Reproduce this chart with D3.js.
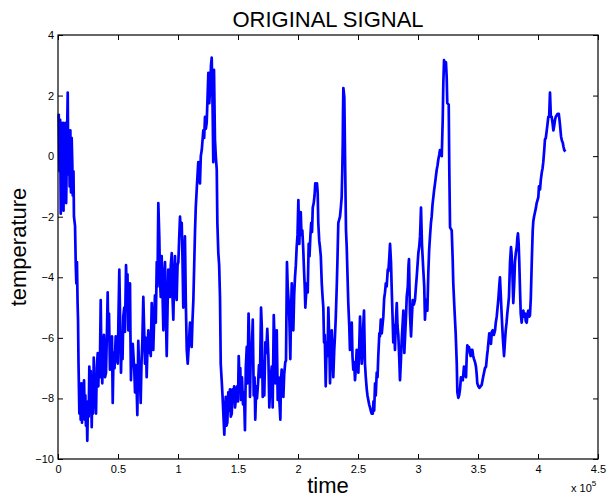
<!DOCTYPE html>
<html>
<head>
<meta charset="utf-8">
<script src="https://cdn.jsdelivr.net/npm/d3@7"></script>
<style>
  body { margin: 0; background: #fff; }
  text { font-family: "Liberation Sans", Arial, Helvetica, sans-serif; }
</style>
</head>
<body>
<svg id="plot" width="609" height="498"></svg>
<script>
// time in units of 10^5, temperature
let signal = [
  [0.006,1.4],[0.013,-0.5],[0.018,1.2],[0.023,-1.9],[0.029,1.1],[0.035,-0.8],[0.042,1.1],[0.046,-1.8],[0.052,0.9],[0.058,-1.0],
  [0.063,1.1],[0.068,-1.55],[0.075,0.5],[0.081,2.1],[0.086,-0.6],[0.092,0.8],[0.097,-1.0],[0.103,0.85],[0.108,-1.2],[0.114,0.6],
  [0.119,-0.2],[0.123,-1.3],[0.129,-0.5],[0.133,-2.0],[0.142,-2.3],[0.148,-3.6],[0.153,-4.2],[0.158,-3.5],[0.163,-4.8],[0.167,-5.4],
  [0.171,-6.85],[0.178,-8.5],[0.183,-7.6],[0.189,-8.7],[0.194,-7.5],[0.200,-8.8],[0.206,-7.5],[0.211,-8.2],[0.217,-7.4],[0.223,-8.7],
  [0.228,-7.9],[0.233,-8.9],[0.239,-8.3],[0.244,-9.4],[0.250,-8.1],[0.256,-8.6],[0.261,-6.95],[0.267,-7.8],[0.273,-7.1],[0.281,-8.95],
  [0.286,-7.6],[0.292,-8.5],[0.298,-6.65],[0.303,-8.3],[0.308,-7.2],[0.317,-8.5],[0.323,-7.0],[0.331,-6.5],[0.336,-7.6],[0.342,-6.6],
  [0.348,-7.3],[0.356,-4.75],[0.361,-6.5],[0.369,-7.5],[0.375,-6.3],[0.383,-5.9],[0.392,-7.3],[0.400,-7.15],[0.408,-5.8],[0.414,-4.5],
  [0.419,-6.0],[0.425,-5.2],[0.433,-7.05],[0.442,-6.2],[0.450,-5.95],[0.456,-8.15],[0.463,-6.5],[0.471,-7.0],[0.481,-5.95],[0.488,-6.6],
  [0.498,-6.85],[0.504,-5.3],[0.511,-3.75],[0.518,-5.5],[0.525,-7.15],[0.531,-6.0],[0.538,-6.7],[0.544,-5.3],[0.552,-5.0],[0.558,-5.8],
  [0.567,-3.6],[0.573,-4.5],[0.579,-3.9],[0.586,-5.75],[0.593,-4.6],[0.600,-4.2],[0.604,-6.0],[0.608,-7.4],[0.615,-6.4],[0.623,-6.2],
  [0.629,-6.6],[0.636,-7.1],[0.642,-7.8],[0.648,-6.9],[0.655,-7.6],[0.661,-8.55],[0.669,-6.1],[0.677,-7.2],[0.683,-7.3],[0.689,-8.15],
  [0.696,-6.8],[0.703,-6.1],[0.711,-4.65],[0.717,-5.6],[0.725,-6.85],[0.732,-6.0],[0.739,-7.3],[0.746,-6.3],[0.753,-5.75],[0.760,-6.5],
  [0.767,-5.95],[0.773,-6.6],[0.781,-4.85],[0.788,-5.8],[0.794,-6.4],[0.802,-5.3],[0.808,-4.6],[0.815,-5.5],[0.823,-3.5],[0.829,-4.3],
  [0.836,-1.55],[0.844,-2.65],[0.850,-4.0],[0.856,-4.65],[0.864,-3.3],[0.871,-4.5],[0.878,-5.75],[0.885,-4.0],[0.892,-3.5],[0.898,-5.0],
  [0.906,-6.6],[0.913,-5.0],[0.919,-3.75],[0.927,-4.4],[0.933,-4.65],[0.940,-3.6],[0.948,-3.2],[0.954,-4.6],[0.961,-5.4],[0.968,-4.0],
  [0.975,-3.3],[0.982,-4.5],[0.989,-4.75],[0.996,-3.6],[1.003,-3.5],[1.010,-2.7],[1.017,-2.0],[1.023,-2.6],[1.031,-2.2],[1.038,-3.5],
  [1.044,-5.0],[1.052,-3.4],[1.058,-2.65],[1.065,-4.8],[1.073,-6.4],[1.081,-6.85],[1.089,-6.3],[1.100,-5.5],[1.107,-6.1],[1.114,-6.3],
  [1.121,-5.4],[1.128,-4.75],[1.135,-3.6],[1.142,-2.45],[1.148,-1.7],[1.156,-1.1],[1.163,-0.6],[1.169,-0.2],[1.177,-0.7],[1.183,-0.9],
  [1.190,0.0],[1.198,0.2],[1.204,0.5],[1.211,0.85],[1.218,0.6],[1.225,1.3],[1.232,0.9],[1.239,1.1],[1.246,1.9],[1.253,2.75],
  [1.261,1.75],[1.269,2.4],[1.275,3.0],[1.281,3.25],[1.286,2.2],[1.289,1.4],[1.294,-0.2],[1.300,2.85],[1.308,0.55],[1.315,0.0],
  [1.323,-0.45],[1.328,-2.2],[1.336,-3.2],[1.343,-3.6],[1.350,-4.65],[1.356,-6.85],[1.364,-7.4],[1.371,-7.9],[1.378,-8.5],[1.386,-9.2],
  [1.392,-8.4],[1.398,-7.95],[1.404,-8.9],[1.411,-8.8],[1.419,-7.8],[1.425,-8.4],[1.433,-7.7],[1.440,-8.6],[1.448,-8.5],[1.454,-7.7],
  [1.461,-8.1],[1.468,-7.6],[1.475,-8.3],[1.483,-8.0],[1.492,-7.6],[1.500,-8.1],[1.506,-6.6],[1.513,-7.4],[1.519,-7.0],[1.525,-8.05],
  [1.533,-7.3],[1.542,-8.2],[1.550,-7.8],[1.558,-9.05],[1.565,-7.0],[1.573,-6.3],[1.579,-7.5],[1.588,-5.2],[1.594,-6.0],[1.600,-7.95],
  [1.607,-6.4],[1.614,-6.6],[1.623,-5.4],[1.631,-7.9],[1.638,-7.3],[1.644,-8.7],[1.652,-7.6],[1.658,-8.0],[1.667,-7.5],[1.675,-6.9],
  [1.683,-7.3],[1.692,-5.0],[1.698,-5.6],[1.706,-7.95],[1.713,-6.8],[1.719,-7.9],[1.728,-6.15],[1.735,-6.5],[1.744,-5.7],[1.753,-6.6],
  [1.761,-8.3],[1.769,-7.5],[1.781,-6.95],[1.789,-8.3],[1.798,-5.25],[1.804,-6.0],[1.811,-7.5],[1.817,-6.7],[1.823,-5.75],[1.831,-8.05],
  [1.838,-7.3],[1.844,-8.0],[1.853,-8.7],[1.858,-7.4],[1.864,-7.05],[1.871,-7.9],[1.878,-7.95],[1.885,-7.2],[1.894,-6.8],[1.900,-6.75],
  [1.908,-3.5],[1.914,-4.3],[1.923,-4.85],[1.929,-5.5],[1.936,-6.7],[1.942,-5.2],[1.948,-4.2],[1.954,-4.8],[1.961,-5.75],[1.968,-4.6],
  [1.975,-4.0],[1.982,-3.6],[1.989,-3.0],[1.996,-2.6],[2.003,-1.45],[2.011,-2.9],[2.018,-2.0],[2.023,-1.85],[2.029,-2.6],[2.036,-2.45],
  [2.043,-3.0],[2.050,-3.75],[2.056,-4.3],[2.061,-5.0],[2.067,-4.6],[2.073,-4.2],[2.081,-4.5],[2.089,-2.9],[2.096,-3.3],[2.103,-2.65],
  [2.110,-2.2],[2.117,-2.5],[2.123,-1.7],[2.131,-1.55],[2.138,-1.3],[2.144,-0.9],[2.152,-1.1],[2.158,-0.9],[2.164,-1.2],[2.169,-2.2],
  [2.177,-2.8],[2.183,-3.0],[2.190,-3.3],[2.198,-4.2],[2.204,-4.6],[2.211,-5.0],[2.217,-6.15],[2.223,-5.9],[2.231,-7.6],[2.239,-6.15],
  [2.246,-6.6],[2.253,-5.0],[2.260,-6.0],[2.267,-7.5],[2.273,-6.4],[2.281,-5.75],[2.288,-6.5],[2.294,-7.3],[2.302,-6.4],[2.308,-5.95],
  [2.315,-5.3],[2.323,-4.3],[2.329,-3.4],[2.336,-2.2],[2.343,-2.1],[2.350,-2.0],[2.357,-1.7],[2.364,-1.35],[2.369,-0.5],[2.373,0.43],
  [2.375,1.4],[2.378,2.25],[2.386,1.95],[2.392,-0.02],[2.400,-2.45],[2.406,-3.0],[2.413,-4.0],[2.419,-4.85],[2.427,-5.6],[2.433,-6.4],
  [2.440,-6.0],[2.448,-5.5],[2.454,-6.6],[2.461,-7.05],[2.468,-6.8],[2.475,-7.4],[2.482,-7.0],[2.489,-6.4],[2.496,-6.9],[2.503,-7.15],
  [2.510,-6.3],[2.517,-5.3],[2.523,-6.0],[2.531,-6.85],[2.538,-6.5],[2.544,-5.6],[2.550,-5.1],[2.558,-6.85],[2.565,-7.3],[2.573,-7.7],
  [2.579,-7.9],[2.586,-8.05],[2.593,-8.2],[2.600,-8.3],[2.606,-8.4],[2.614,-8.5],[2.623,-8.5],[2.629,-8.1],[2.635,-8.4],[2.642,-7.5],
  [2.648,-7.9],[2.656,-7.15],[2.663,-7.3],[2.669,-6.6],[2.678,-5.85],[2.683,-5.95],[2.690,-5.4],[2.698,-5.85],[2.704,-5.6],[2.711,-5.3],
  [2.718,-4.7],[2.725,-4.5],[2.732,-4.2],[2.739,-4.3],[2.748,-3.75],[2.753,-3.8],[2.760,-3.4],[2.767,-2.9],[2.775,-3.5],[2.781,-4.4],
  [2.788,-5.3],[2.794,-6.15],[2.802,-5.6],[2.808,-6.4],[2.815,-5.5],[2.823,-4.85],[2.829,-5.6],[2.836,-5.9],[2.843,-6.6],[2.850,-7.4],
  [2.857,-6.8],[2.864,-6.1],[2.871,-5.6],[2.878,-5.1],[2.886,-6.5],[2.893,-5.9],[2.900,-5.3],[2.906,-4.65],[2.915,-4.3],[2.921,-3.6],
  [2.925,-3.4],[2.929,-4.3],[2.933,-5.2],[2.942,-5.95],[2.948,-5.4],[2.956,-4.75],[2.965,-4.9],[2.975,-4.75],[2.983,-4.3],[2.989,-4.0],
  [2.996,-3.6],[3.003,-3.2],[3.010,-3.0],[3.017,-2.65],[3.021,-2.2],[3.025,-1.7],[3.029,-2.3],[3.033,-2.9],[3.044,-3.75],[3.052,-4.3],
  [3.058,-5.4],[3.067,-4.75],[3.078,-5.1],[3.086,-3.85],[3.093,-3.1],[3.100,-2.65],[3.108,-2.2],[3.114,-2.0],[3.121,-1.6],[3.128,-1.35],
  [3.135,-1.1],[3.142,-0.9],[3.148,-0.7],[3.156,-0.45],[3.163,-0.3],[3.169,-0.12],[3.177,0.05],[3.183,0.2],[3.190,0.05],[3.198,0.0],
  [3.202,0.6],[3.206,1.2],[3.211,2.4],[3.217,3.17],[3.225,3.0],[3.233,3.1],[3.239,2.6],[3.244,1.75],[3.256,1.7],[3.261,-0.5],
  [3.267,-2.35],[3.281,-2.45],[3.289,-3.4],[3.294,-4.2],[3.303,-4.98],[3.314,-5.85],[3.323,-6.85],[3.328,-7.8],[3.336,-7.98],[3.343,-7.9],
  [3.350,-7.7],[3.358,-7.3],[3.365,-7.4],[3.373,-7.4],[3.378,-7.2],[3.383,-6.95],[3.392,-7.1],[3.400,-7.3],[3.406,-6.6],[3.411,-6.25],
  [3.418,-6.4],[3.425,-6.3],[3.432,-6.5],[3.439,-6.6],[3.446,-6.4],[3.453,-6.4],[3.460,-6.6],[3.467,-6.7],[3.475,-6.8],[3.483,-6.95],
  [3.489,-7.2],[3.494,-7.5],[3.503,-7.6],[3.511,-7.65],[3.521,-7.6],[3.531,-7.55],[3.540,-7.35],[3.550,-7.15],[3.558,-7.0],[3.567,-6.95],
  [3.575,-6.6],[3.581,-6.4],[3.588,-6.1],[3.594,-5.85],[3.602,-6.0],[3.608,-6.2],[3.615,-5.8],[3.623,-5.75],[3.632,-5.9],[3.642,-5.75],
  [3.648,-5.5],[3.656,-5.3],[3.663,-5.0],[3.669,-4.75],[3.677,-4.3],[3.683,-4.0],[3.690,-4.6],[3.698,-5.3],[3.707,-6.0],[3.717,-6.6],
  [3.725,-6.1],[3.731,-5.75],[3.738,-5.5],[3.744,-5.2],[3.752,-4.9],[3.758,-4.65],[3.763,-4.0],[3.767,-3.5],[3.775,-3.0],[3.781,-3.3],
  [3.786,-3.75],[3.794,-4.85],[3.802,-4.2],[3.808,-3.5],[3.815,-3.2],[3.823,-3.0],[3.828,-2.7],[3.833,-2.55],[3.839,-2.9],[3.844,-3.5],
  [3.850,-4.4],[3.856,-5.2],[3.864,-5.5],[3.871,-5.2],[3.878,-5.1],[3.885,-5.3],[3.892,-5.2],[3.898,-5.45],[3.906,-5.5],[3.913,-5.2],
  [3.919,-5.1],[3.927,-5.3],[3.933,-5.25],[3.940,-4.7],[3.948,-3.5],[3.956,-2.45],[3.961,-2.15],[3.967,-2.0],[3.975,-1.85],[3.983,-1.7],
  [3.989,-1.55],[3.996,-1.45],[4.003,-1.35],[4.008,-1.0],[4.017,-1.1],[4.023,-0.8],[4.031,-0.55],[4.038,-0.4],[4.044,-0.2],[4.052,0.2],
  [4.058,0.55],[4.065,0.6],[4.073,0.85],[4.079,1.05],[4.086,1.3],[4.093,1.3],[4.100,2.1],[4.107,1.3],[4.114,1.3],[4.121,1.1],
  [4.128,0.85],[4.135,1.0],[4.142,1.2],[4.148,1.3],[4.156,1.35],[4.164,1.4],[4.173,1.4],[4.179,1.2],[4.183,1.05],[4.192,0.65],
  [4.200,0.5],[4.206,0.45],[4.213,0.3],[4.219,0.2],[4.228,0.15]
];

let xTicks = [0, 0.5, 1, 1.5, 2, 2.5, 3, 3.5, 4, 4.5];
let yTicks = [-10, -8, -6, -4, -2, 0, 2, 4];

let width = 609,
    height = 498,
    margin = {top: 35, right: 11, bottom: 39, left: 58};

let svg = d3.select("#plot");

let x = d3.scaleLinear()
    .domain([0, 4.5])
    .range([margin.left, width - margin.right]);

let y = d3.scaleLinear()
    .domain([-10, 4])
    .range([height - margin.bottom, margin.top]);

let tickStyle = g => g
    .call(g => g.select(".domain").remove())
    .call(g => g.selectAll(".tick line").attr("stroke", "#000"))
    .call(g => g.selectAll(".tick text")
              .attr("fill", "#000")
              .style("font-size", "11px")
              .style("font-family", "'Liberation Sans', Arial, sans-serif"));

svg.append("g")
    .attr("transform", `translate(0, ${height - margin.bottom})`)
    .call(d3.axisBottom(x).tickValues(xTicks).tickFormat(d3.format(""))
            .tickSizeInner(-5).tickSizeOuter(0).tickPadding(6))
    .call(tickStyle);

svg.append("g")
    .attr("transform", `translate(0, ${margin.top})`)
    .call(d3.axisTop(x).tickValues(xTicks).tickFormat("")
            .tickSizeInner(-5).tickSizeOuter(0))
    .call(tickStyle);

svg.append("g")
    .attr("transform", `translate(${margin.left}, 0)`)
    .call(d3.axisLeft(y).tickValues(yTicks).tickFormat(d3.format("d"))
            .tickSizeInner(-5).tickSizeOuter(0).tickPadding(4))
    .call(tickStyle);

svg.append("g")
    .attr("transform", `translate(${width - margin.right}, 0)`)
    .call(d3.axisRight(y).tickValues(yTicks).tickFormat("")
            .tickSizeInner(-5).tickSizeOuter(0))
    .call(tickStyle);

let line = d3.line()
    .x(d => x(d[0]))
    .y(d => y(d[1]));

svg.append("path")
    .datum(signal)
    .attr("fill", "none")
    .attr("stroke", "#0000ff")
    .attr("stroke-width", 2.7)
    .attr("stroke-linejoin", "round")
    .attr("d", line);

// axes box
svg.append("rect")
    .attr("x", margin.left)
    .attr("y", margin.top)
    .attr("width", width - margin.left - margin.right)
    .attr("height", height - margin.top - margin.bottom)
    .attr("fill", "none")
    .attr("stroke", "#000")
    .attr("stroke-width", 1.2);

svg.append("text")
    .attr("x", (margin.left + width - margin.right) / 2)
    .attr("y", 27)
    .attr("text-anchor", "middle")
    .style("font-size", "22px")
    .text("ORIGINAL SIGNAL");

svg.append("text")
    .attr("x", (margin.left + width - margin.right) / 2)
    .attr("y", 493)
    .attr("text-anchor", "middle")
    .style("font-size", "22px")
    .text("time");

svg.append("text")
    .attr("transform", `translate(26, ${(margin.top + height - margin.bottom) / 2}) rotate(-90)`)
    .attr("text-anchor", "middle")
    .style("font-size", "22px")
    .text("temperature");

let expo = svg.append("text")
    .attr("x", 571)
    .attr("y", 492)
    .style("font-size", "11px");
expo.append("tspan").text("x 10");
expo.append("tspan").attr("dy", -6).style("font-size", "8px").text("5");
</script>
</body>
</html>
